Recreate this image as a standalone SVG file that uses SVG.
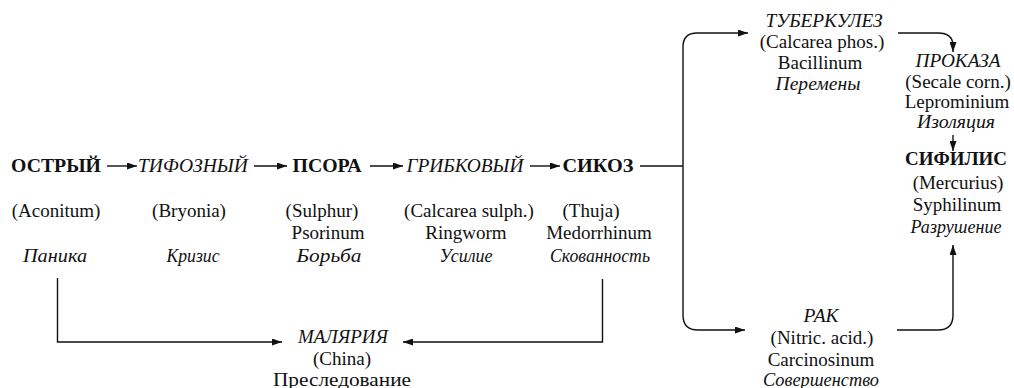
<svg xmlns="http://www.w3.org/2000/svg" width="1014" height="388" viewBox="0 0 1014 388">
  <defs>
    <style>
      text { font-family: "Liberation Serif", "DejaVu Serif", "Times New Roman", serif; font-size: 19px; fill: #111; text-anchor: middle; }
      .b { font-weight: bold; }
      .i { font-style: italic; }
      .ln { fill: none; stroke: #111; stroke-width: 1.4; }
    </style>
    <marker id="ah" viewBox="0 0 10 7" refX="10" refY="3.5" markerWidth="10" markerHeight="7" orient="auto" markerUnits="userSpaceOnUse">
      <path d="M0,0 L10,3.5 L0,7 z" fill="#111"/>
    </marker>
  </defs>

  <rect width="1014" height="388" fill="#fff"/>

  <!-- connectors -->
  <g id="connectors">
    <line class="ln" x1="107" y1="166" x2="137" y2="166" marker-end="url(#ah)"/>
    <line class="ln" x1="254" y1="166" x2="287" y2="166" marker-end="url(#ah)"/>
    <line class="ln" x1="370" y1="166" x2="403" y2="166" marker-end="url(#ah)"/>
    <line class="ln" x1="530" y1="166" x2="560" y2="166" marker-end="url(#ah)"/>
    <line class="ln" x1="640" y1="166" x2="683" y2="166"/>
    <path class="ln" d="M683,166 V47 Q683,33 697,33 H748" marker-end="url(#ah)"/>
    <path class="ln" d="M683,166 V315 Q683,330 698,330 H745" marker-end="url(#ah)"/>
    <path class="ln" d="M898,33 H938 Q953,33 953,46 V52" marker-end="url(#ah)"/>
    <line class="ln" x1="953" y1="135" x2="953" y2="151" marker-end="url(#ah)"/>
    <path class="ln" d="M897,330 H938 Q953,330 953,315 V245" marker-end="url(#ah)"/>
    <path class="ln" d="M57.5,278 V342 H282" marker-end="url(#ah)"/>
    <path class="ln" d="M602.5,279 V342 H403" marker-end="url(#ah)"/>
  </g>

  <g id="ostryi">
    <text class="b" x="56" y="172" textLength="90" lengthAdjust="spacingAndGlyphs">ОСТРЫЙ</text>
    <text x="56" y="217">(Aconitum)</text>
    <text class="i" x="55" y="262" textLength="64" lengthAdjust="spacingAndGlyphs">Паника</text>
  </g>

  <g id="tifoznyi">
    <text class="i" x="193" y="172" textLength="110" lengthAdjust="spacingAndGlyphs">ТИФОЗНЫЙ</text>
    <text x="189" y="217">(Bryonia)</text>
    <text class="i" x="193" y="262" textLength="53" lengthAdjust="spacingAndGlyphs">Кризис</text>
  </g>

  <g id="psora">
    <text class="b" x="327" y="172" textLength="69" lengthAdjust="spacingAndGlyphs">ПСОРА</text>
    <text x="322" y="217">(Sulphur)</text>
    <text x="328" y="239">Psorinum</text>
    <text class="i" x="329" y="262" textLength="65" lengthAdjust="spacingAndGlyphs">Борьба</text>
  </g>

  <g id="gribkovyi">
    <text class="i" x="465" y="172" textLength="117" lengthAdjust="spacingAndGlyphs">ГРИБКОВЫЙ</text>
    <text x="469" y="217">(Calcarea sulph.)</text>
    <text x="466" y="239">Ringworm</text>
    <text class="i" x="466" y="262" textLength="53" lengthAdjust="spacingAndGlyphs">Усилие</text>
  </g>

  <g id="sikoz">
    <text class="b" x="598" y="172" textLength="71" lengthAdjust="spacingAndGlyphs">СИКОЗ</text>
    <text x="591" y="217">(Thuja)</text>
    <text x="599" y="239">Medorrhinum</text>
    <text class="i" x="600" y="262" textLength="100" lengthAdjust="spacingAndGlyphs">Скованность</text>
  </g>

  <g id="malyariya">
    <text class="i" x="343" y="343" textLength="90" lengthAdjust="spacingAndGlyphs">МАЛЯРИЯ</text>
    <text x="342" y="365">(China)</text>
    <text x="342" y="386" textLength="138" lengthAdjust="spacingAndGlyphs">Преследование</text>
  </g>

  <g id="tuberkulez">
    <text class="i" x="824" y="27" textLength="117" lengthAdjust="spacingAndGlyphs">ТУБЕРКУЛЕЗ</text>
    <text x="822" y="48">(Calcarea phos.)</text>
    <text x="820" y="69">Bacillinum</text>
    <text class="i" x="818" y="90" textLength="85" lengthAdjust="spacingAndGlyphs">Перемены</text>
  </g>

  <g id="prokaza">
    <text class="i" x="958" y="67" textLength="85" lengthAdjust="spacingAndGlyphs">ПРОКАЗА</text>
    <text x="958" y="88">(Secale corn.)</text>
    <text x="957" y="108">Leprominium</text>
    <text class="i" x="956" y="128" textLength="78" lengthAdjust="spacingAndGlyphs">Изоляция</text>
  </g>

  <g id="sifilis">
    <text class="b" x="956" y="165" textLength="102" lengthAdjust="spacingAndGlyphs">СИФИЛИС</text>
    <text x="958" y="189">(Mercurius)</text>
    <text x="957" y="211">Syphilinum</text>
    <text class="i" x="956" y="233" textLength="91" lengthAdjust="spacingAndGlyphs">Разрушение</text>
  </g>

  <g id="rak">
    <text class="i" x="821" y="322" textLength="35" lengthAdjust="spacingAndGlyphs">РАК</text>
    <text x="822" y="344">(Nitric. acid.)</text>
    <text x="821" y="366">Carcinosinum</text>
    <text class="i" x="821" y="386" textLength="116" lengthAdjust="spacingAndGlyphs">Совершенство</text>
  </g>
</svg>
